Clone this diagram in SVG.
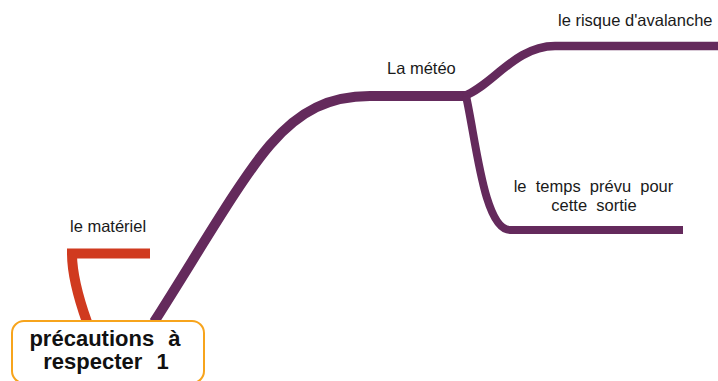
<svg xmlns="http://www.w3.org/2000/svg" width="718" height="381" viewBox="0 0 718 381">
<style>
.br{fill:none;stroke-linejoin:miter;stroke-linecap:butt}
.p{stroke:#642a5c}
.r{stroke:#d03a1f}
.t{font-family:"Liberation Sans",Arial,sans-serif;font-size:16.5px;fill:#1a1a1a;white-space:pre}
.h{font-family:"Liberation Sans",Arial,sans-serif;font-size:22px;font-weight:bold;fill:#111;white-space:pre}
</style>
<rect width="718" height="381" fill="#fff"/>
<g id="connectors">
<path class="br p" stroke-width="10" d="M154,322 C 200,250 240,180 270,145 C 300,110 330,96 370,96 L466,96"/>
<path class="br p" stroke-width="8.5" d="M464,96 C 492,86 515,46 555,46 L718,46"/>
<path class="br p" stroke-width="8" d="M466,96 C 476,140 484,230 510,230 L683,230"/>
<path class="br r" stroke-width="10" d="M87,322 Q 72,280 72,253.5 L150,253.5"/>
</g>
<g id="root">
<rect x="12" y="321" width="192" height="62" rx="12" ry="12" fill="#fff" stroke="#f7a41c" stroke-width="2"/>
<text class="h" x="105" y="346" text-anchor="middle" word-spacing="1">précautions  à</text>
<text class="h" x="106" y="369" text-anchor="middle" word-spacing="1">respecter  1</text>
</g>
<g id="n-materiel"><text class="t" x="70" y="232">le matériel</text></g>
<g id="n-meteo"><text class="t" x="387" y="74">La météo</text></g>
<g id="n-avalanche"><text class="t" x="558" y="26">le risque d'avalanche</text></g>
<g id="n-temps">
<text class="t" x="593.5" y="192" text-anchor="middle">le  temps  prévu  pour</text>
<text class="t" x="594" y="211" text-anchor="middle">cette  sortie</text>
</g>
</svg>
